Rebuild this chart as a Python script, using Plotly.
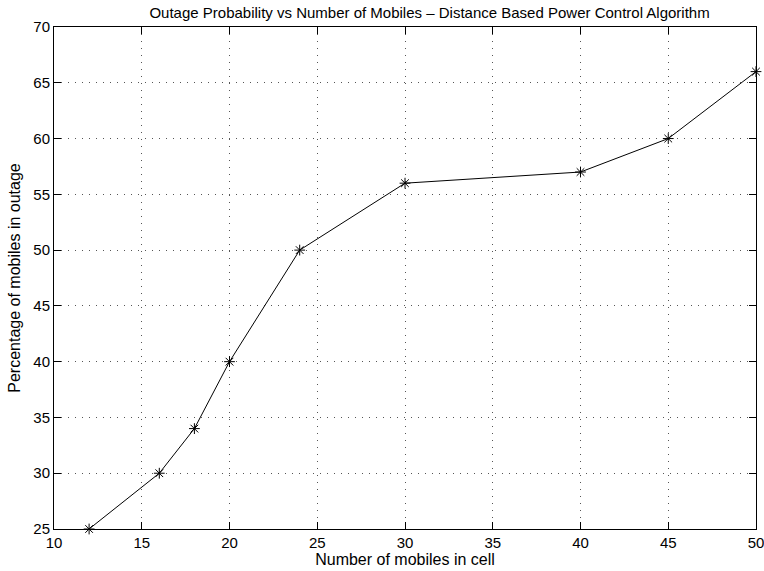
import plotly.graph_objects as go

mobiles = [12, 16, 18, 20, 24, 30, 40, 45, 50]
outage_pct = [25, 30, 34, 40, 50, 56, 57, 60, 66]
x_ticks = [10, 15, 20, 25, 30, 35, 40, 45, 50]
y_ticks = [25, 30, 35, 40, 45, 50, 55, 60, 65, 70]

font_family = "Liberation Sans, Arial, sans-serif"

fig = go.Figure()
fig.add_trace(go.Scatter(
    x=mobiles, y=outage_pct, mode="lines+markers",
    line=dict(color="black", width=1),
    marker=dict(symbol="asterisk-open", size=9, color="black",
                line=dict(color="black", width=1)),
    showlegend=False, cliponaxis=False,
))

axis_common = dict(
    showline=True, linecolor="black", linewidth=1, mirror="ticks",
    ticks="inside", ticklen=7, tickcolor="black", tickwidth=1,
    showgrid=True, gridcolor="#555555", griddash="1px,6px", gridwidth=1,
    zeroline=False, automargin=False, ticklabeloverflow="allow",
    tickfont=dict(family=font_family, size=15, color="black"),
)

fig.update_layout(
    width=764, height=571,
    margin=dict(l=54, r=8, t=27, b=42),
    paper_bgcolor="white", plot_bgcolor="white",
    font=dict(family=font_family, color="black"),
    title=dict(text="Outage Probability vs Number of Mobiles – Distance Based Power Control Algorithm",
               x=0.535, xanchor="center", y=0.978, yanchor="middle", xref="paper", yref="container",
               font=dict(family=font_family, size=15, color="black")),
    xaxis=dict(range=[10, 50], tickvals=x_ticks,
               title=dict(text="Number of mobiles in cell", standoff=0,
                          font=dict(family=font_family, size=16)),
               ticklabelstandoff=0,
               **axis_common),
    yaxis=dict(range=[25, 70], tickvals=y_ticks,
               title=dict(text="Percentage of mobiles in outage", standoff=8,
                          font=dict(family=font_family, size=16)),
               **axis_common),
)

fig.write_html("out.html", config={"displayModeBar": False},
               post_script="document.body.style.margin='0';document.body.style.overflow='hidden';")
